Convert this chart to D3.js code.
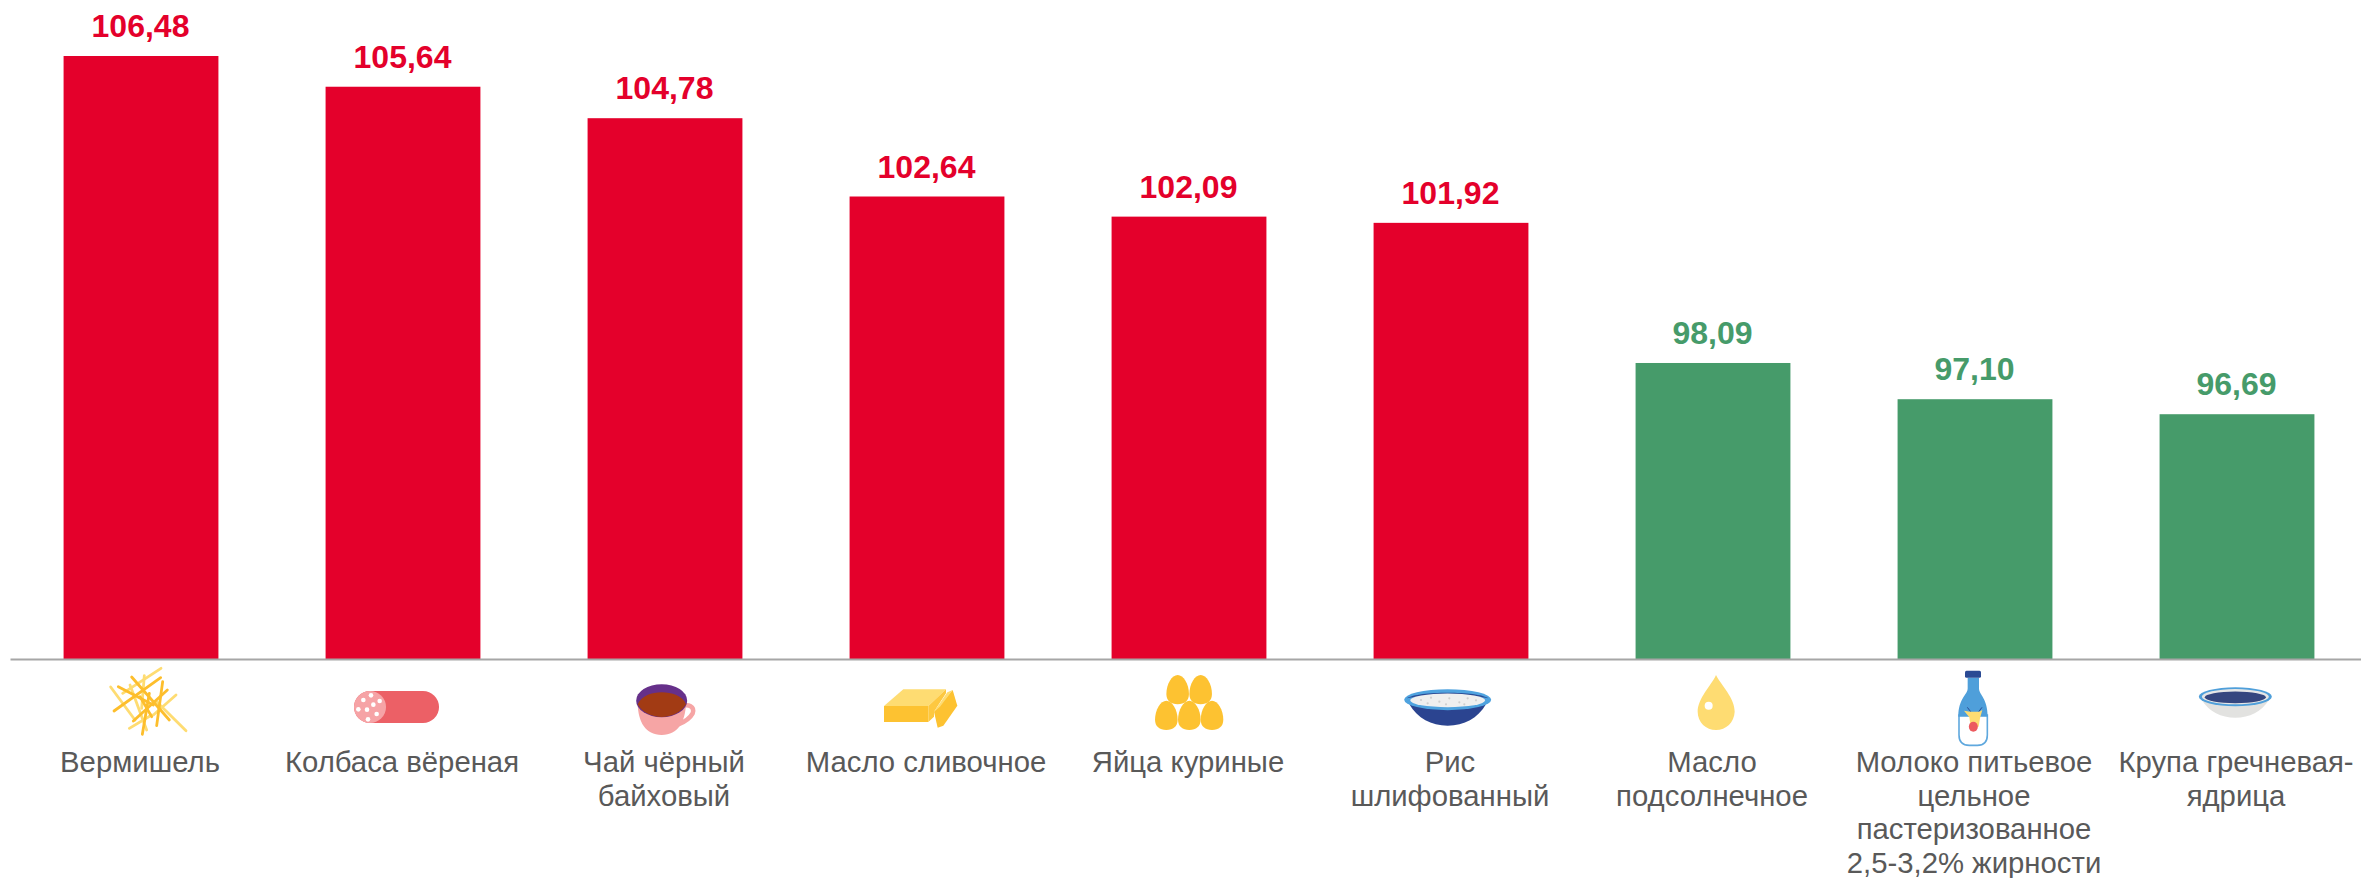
<!DOCTYPE html>
<html lang="ru">
<head>
<meta charset="utf-8">
<title>Индексы цен</title>
<script src="https://cdn.jsdelivr.net/npm/d3@7"></script>
<style>
html,body{margin:0;padding:0;background:#fff;overflow:hidden}
svg{display:block}
text{font-family:"Liberation Sans",Arial,sans-serif}
</style>
</head>
<body>
<svg id="chart" width="2361" height="878"></svg>
<script>
const categories = ["Вермишель","Колбаса вёреная","Чай чёрный байховый","Масло сливочное","Яйца куриные","Рис шлифованный","Масло подсолнечное","Молоко питьевое цельное пастеризованное 2,5-3,2% жирности","Крупа гречневая-ядрица"];
const categoryLines = [["Вермишель"],["Колбаса вёреная"],["Чай чёрный","байховый"],["Масло сливочное"],["Яйца куриные"],["Рис","шлифованный"],["Масло","подсолнечное"],["Молоко питьевое","цельное","пастеризованное","2,5-3,2% жирности"],["Крупа гречневая-","ядрица"]];
const values = [106.48,105.64,104.78,102.64,102.09,101.92,98.09,97.10,96.69];
const threshold = 100;
const iconNames = ["noodles","sausage","tea","butter","eggs","rice","oil","milk","buckwheat"];

const RED="#E4002B", GREEN="#469B6A";
const svg=d3.select("#chart");
const baseY=659;
const x=d3.scaleBand().domain(categories).range([10,2368]).paddingInner(0.409).paddingOuter(0.2045);
const y=d3.scaleLinear().domain([90,106.48]).range([baseY,56]);
const color=v=>v>=threshold?RED:GREEN;
const fmt=v=>d3.format(".2f")(v).replace(".",",");
const data=categories.map((c,i)=>({c,v:values[i],lines:categoryLines[i],icon:iconNames[i]}));

svg.append("g").selectAll("rect").data(data).join("rect")
  .attr("x",d=>x(d.c)).attr("width",x.bandwidth())
  .attr("y",d=>y(d.v)).attr("height",d=>baseY-y(d.v))
  .attr("fill",d=>color(d.v));

svg.append("g").selectAll("text").data(data).join("text")
  .attr("x",d=>x(d.c)+x.bandwidth()/2-0.5).attr("y",d=>y(d.v)-19)
  .attr("text-anchor","middle").attr("font-size",32).attr("font-weight",700)
  .attr("fill",d=>color(d.v)).text(d=>fmt(d.v));

// axis line
const axisScale=d3.scaleLinear().domain([0,1]).range([10,2361]);
const axisG=svg.append("g").attr("transform",`translate(0,${baseY})`)
  .call(d3.axisBottom(axisScale).tickValues([]).tickSize(0));
axisG.select(".domain").attr("stroke","#A6A6A6").attr("stroke-width",2);

// category labels
svg.append("g").selectAll("text").data(data).join("text")
  .attr("text-anchor","middle").attr("font-size",29.3).attr("fill","#595959")
  .each(function(d){
    d3.select(this).selectAll("tspan").data(d.lines).join("tspan")
      .attr("x",x(d.c)+x.bandwidth()/2-1)
      .attr("y",(l,i)=>772+i*33.7)
      .text(l=>l);
  });

// icons: decorative pictograms, drawn in the 3x crop space
const Y1="#FEDC72", Y2="#FDC231";
const icons={
 noodles(g){
  const light=[[62,66,135,165],[213,10,98,85],[163,32,155,130],[258,90,190,150],[118,190,185,150],[200,110,288,197],[120,60,170,195]];
  const dark=[[125,36,238,165],[85,65,190,120],[212,38,72,138],[232,75,130,168],[218,50,200,182],[178,85,157,208],[150,95,185,155]];
  const t=([a,b,c,d])=>[(a-153)/3,6+b/3,(c-153)/3,6+d/3];
  light.forEach(s=>{const[a,b,c,e]=t(s);g.append("line").attr("x1",a).attr("y1",b).attr("x2",c).attr("y2",e).attr("stroke",Y1).attr("stroke-width",2.8).attr("stroke-linecap","round");});
  dark.forEach(s=>{const[a,b,c,e]=t(s);g.append("line").attr("x1",a).attr("y1",b).attr("x2",c).attr("y2",e).attr("stroke","#FDBE2C").attr("stroke-width",2.8).attr("stroke-linecap","round");});
 },
 sausage(g){
  g.append("rect").attr("x",-49).attr("y",32).attr("width",85).attr("height",32).attr("rx",16).attr("fill","#EC6066");
  g.append("circle").attr("cx",-33).attr("cy",48).attr("r",16).attr("fill","#F6A3A6");
  [[820,105],[843,91],[869,108],[850,119],[805,133],[831,134],[860,147],[834,163]].forEach(([a,b])=>
    g.append("circle").attr("cx",(a-939)/3).attr("cy",6+b/3).attr("r",2.3).attr("fill","#fff"));
 },
 tea(g){
  const p=(a,b)=>[(a-195)/3,6+b/3];
  g.append("path").attr("fill","none").attr("stroke","#F6A5A5").attr("stroke-width",4.5)
    .attr("d",`M${p(245,125)} C${p(265,115)} ${p(285,125)} ${p(278,145)} C${p(270,160)} ${p(255,170)} ${p(235,178)}`);
  g.append("path").attr("fill","#F6A5A5")
    .attr("d",`M${p(113,118)} C${p(115,170)} ${p(135,210)} ${p(185,210)} C${p(235,210)} ${p(255,170)} ${p(258,118)} Z`);
  g.append("ellipse").attr("cx",(185-195)/3).attr("cy",6+107/3).attr("rx",25.5).attr("ry",16.5).attr("fill","#66308A");
  g.append("path").attr("fill","#A23B14")
    .attr("d",`M${p(113,118)} C${p(125,92)} ${p(155,82)} ${p(185,82)} C${p(215,82)} ${p(248,92)} ${p(258,118)} C${p(245,142)} ${p(215,156)} ${p(185,156)} C${p(155,156)} ${p(125,142)} ${p(113,118)} Z`);
 },
 butter(g){
  const p=(a,b)=>[(a-201)/3,6+b/3];
  const poly=(pts,f)=>g.append("polygon").attr("points",pts.map(q=>p(q[0],q[1]).join(",")).join(" ")).attr("fill",f);
  poly([[72,123],[130,73],[258,73],[205,123]],Y1);
  poly([[72,123],[205,123],[205,171],[72,171]],Y2);
  poly([[205,123],[258,73],[258,85],[222,140],[222,155],[205,171]],"#FDC840");
  poly([[222,140],[278,75],[292,122],[250,182],[233,188]],Y2);
  poly([[222,140],[262,82],[278,75],[240,125]],Y1);
 },
 eggs(g){
  const egg=(cx,cy)=>{const X=(cx-987)/3,Y=6+cy/3,w=11.3,h=14.7;
   g.append("path").attr("fill",Y2).attr("d",`M${X},${Y-h} C${X+w*0.5},${Y-h} ${X+w},${Y-h*0.4} ${X+w},${Y+h*0.3} C${X+w},${Y+h*0.75} ${X+w*0.6},${Y+h} ${X},${Y+h} C${X-w*0.6},${Y+h} ${X-w},${Y+h*0.75} ${X-w},${Y+h*0.3} C${X-w},${Y-h*0.4} ${X-w*0.5},${Y-h} ${X},${Y-h} Z`);};
  [[953,74],[1022,74],[919,151],[988,151],[1056,151]].forEach(q=>egg(q[0],q[1]));
 },
 rice(g){
  const p=(a,b)=>[(a-210)/3,6+b/3];
  g.append("path").attr("fill","#2B4490").attr("d",`M${p(85,118)} C${p(110,160)} ${p(150,182)} ${p(200,182)} C${p(250,182)} ${p(290,160)} ${p(315,118)} Z`);
  g.append("ellipse").attr("cx",p(200,0)[0]).attr("cy",p(0,104)[1]).attr("rx",43.5).attr("ry",10.5).attr("fill","#4FA3DF");
  g.append("path").attr("fill","#2A4A94").attr("d",`M${p(78,100)} C${p(110,78)} ${p(290,78)} ${p(322,100)} C${p(290,90)} ${p(110,90)} ${p(78,100)} Z`);
  g.append("ellipse").attr("cx",p(200,0)[0]).attr("cy",p(0,106)[1]).attr("rx",37.5).attr("ry",6.8).attr("fill","#EFEFEF");
  [[120,105],[150,98],[175,110],[205,100],[235,112],[260,100],[285,106],[140,115],[195,118],[250,118]].forEach(([a,b])=>
   g.append("circle").attr("cx",p(a,0)[0]).attr("cy",p(0,b)[1]).attr("r",1.1).attr("fill","#CFCFCF"));
 },
 oil(g){
  const p=(a,b)=>[(a-126)/3,6+b/3];
  g.append("path").attr("fill",Y1).attr("d",`M${p(135,30)} C${p(150,60)} ${p(192,100)} ${p(191,140)} C${p(190,172)} ${p(165,195)} ${p(135,195)} C${p(105,195)} ${p(80,172)} ${p(80,140)} C${p(80,100)} ${p(122,60)} ${p(135,30)} Z`);
  g.append("circle").attr("cx",p(113,0)[0]).attr("cy",p(0,122)[1]).attr("r",4).attr("fill","#fff");
 },
 milk(g){
  const p=(a,b)=>[(a-135)/3,1+b/3];
  g.append("path").attr("fill","#fff").attr("stroke","#5FA8DE").attr("stroke-width",1.6)
    .attr("d",`M${p(87,165)} L${p(87,225)} Q${p(87,256)} ${p(118,256)} L${p(142,256)} Q${p(172,256)} ${p(172,225)} L${p(172,165)} Z`);
  g.append("path").attr("fill","#4F9FDA")
    .attr("d",`M${p(113,53)} L${p(113,85)} C${p(113,105)} ${p(85,115)} ${p(85,170)} L${p(173,170)} C${p(173,115)} ${p(147,105)} ${p(147,85)} L${p(147,53)} Z`);
  g.append("rect").attr("x",p(105,0)[0]).attr("y",p(0,32)[1]).attr("width",16).attr("height",7).attr("rx",1.5).attr("fill","#2A4A94");
  g.append("path").attr("fill","none").attr("stroke","#2A4A94").attr("stroke-width",1)
    .attr("d",`M${p(112,142)} L${p(122,155)} M${p(156,142)} L${p(146,155)}`);
  g.append("path").attr("fill","#FEDC72").attr("d",`M${p(102,152)} L${p(120,155)} L${p(148,155)} L${p(157,150)} L${p(150,175)} L${p(146,200)} L${p(122,200)} L${p(118,172)} Z`);
  g.append("ellipse").attr("cx",p(130,0)[0]).attr("cy",p(0,200)[1]).attr("rx",4.5).attr("ry",5).attr("fill","#EC5A5F");
 },
 buckwheat(g){
  const p=(a,b)=>[(a-168)/3,11+b/3];
  g.append("path").attr("fill","#E2E2E0").attr("d",`M${p(62,90)} C${p(85,125)} ${p(120,143)} ${p(163,143)} C${p(206,143)} ${p(241,125)} ${p(264,90)} Z`);
  g.append("ellipse").attr("cx",p(163,0)[0]).attr("cy",p(0,80)[1]).attr("rx",36.5).attr("ry",9.5).attr("fill","#4F9FDA");
  g.append("ellipse").attr("cx",p(163,0)[0]).attr("cy",p(0,80)[1]).attr("rx",33.5).attr("ry",7.6).attr("fill","#E6E6E6");
  g.append("ellipse").attr("cx",p(163,0)[0]).attr("cy",p(0,82)[1]).attr("rx",30.5).attr("ry",5.8).attr("fill","#35467F");
 }
};
data.forEach(d=>{
  const g=svg.append("g").attr("transform",`translate(${x(d.c)+x.bandwidth()/2},${baseY})`);
  icons[d.icon](g);
});
</script>
</body>
</html>
